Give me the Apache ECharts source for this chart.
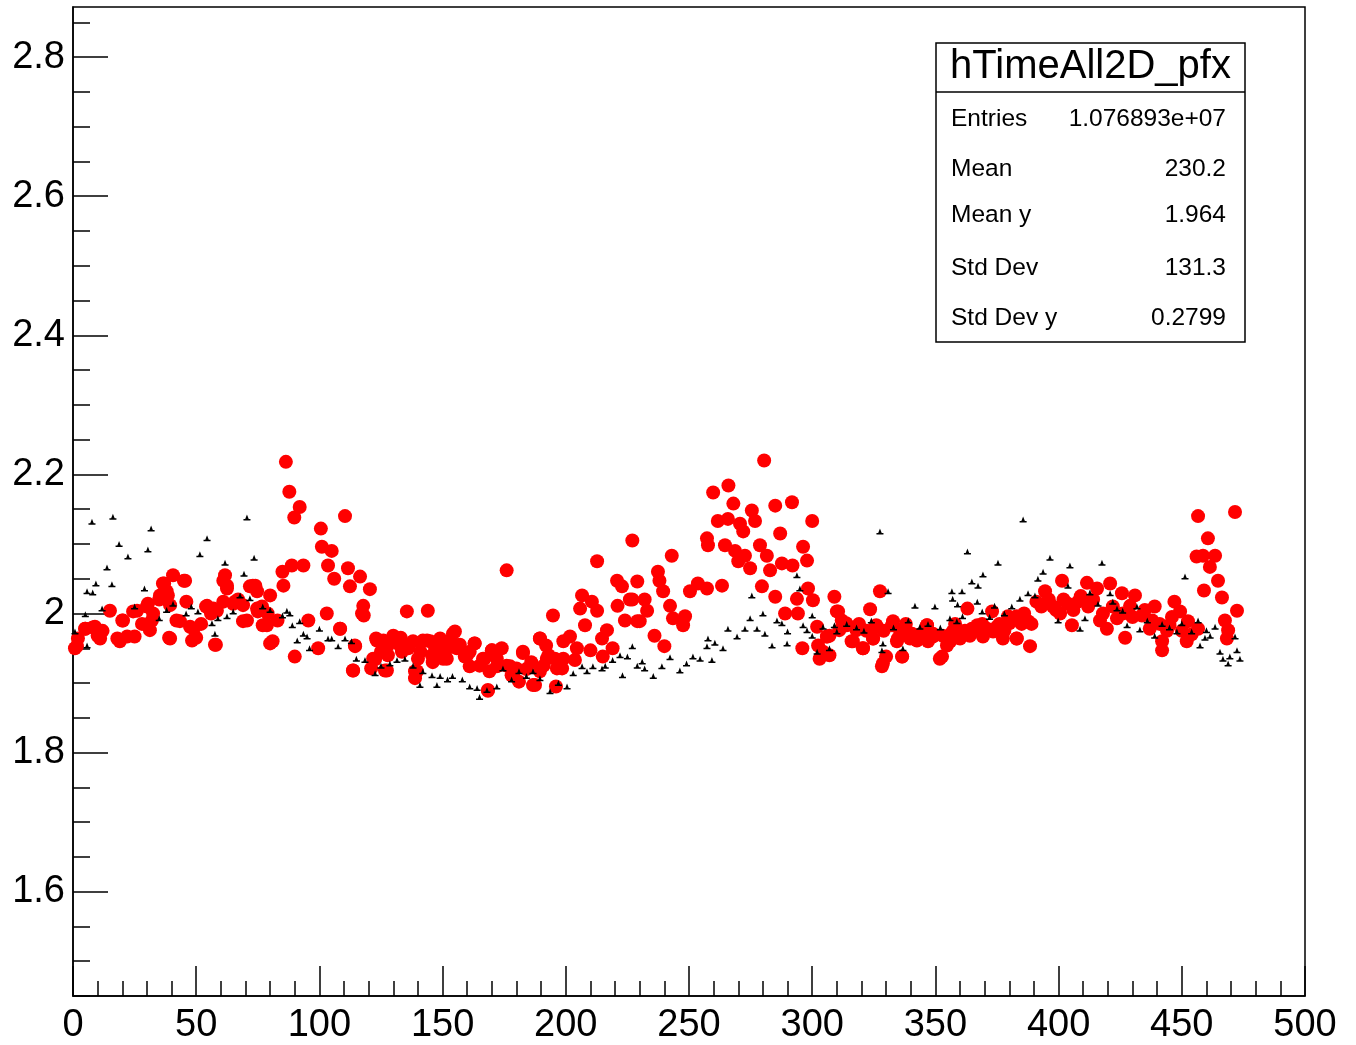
<!DOCTYPE html>
<html>
<head>
<meta charset="utf-8">
<script src="https://cdn.jsdelivr.net/npm/echarts@6/dist/echarts.min.js"></script>
<style>html,body{margin:0;padding:0;background:#fff}#c{width:1356px;height:1045px}</style>
</head>
<body>
<div id="c"></div>
<script>
// ---- data ----
const redProfile = [
[0.8,1.950],[2,1.964],[5,1.978],[8,1.980],[10,1.968],[12,1.975],[15,2.004],[18,1.964],[20,1.990],[22,1.967],
[26,2.004],[28,1.985],[30,2.010],[32,1.990],[35,2.020],[37,2.043],[38.5,2.026],[39,1.965],[40.6,2.055],[42,1.990],
[45,2.047],[46,2.017],[49,1.978],[50,1.965],[52,1.985],[54,2.010],[56,2.000],[57,2.007],[58,1.955],[61,2.047],
[62.5,2.040],[65,2.014],[67,2.020],[69,2.012],[70.6,1.990],[73,2.040],[74,2.040],[74.7,2.007],[75,2.003],[77,1.983],
[79,2.000],[80,2.026],[81,1.960],[83,1.990],[85,2.060],[85.4,2.040],[86.4,2.218],[87.8,2.175],[88.8,2.069],[89.8,2.138],
[90,1.938],[92,2.153],[93.5,2.069],[95.5,1.990],[99.5,1.950],[100.6,2.122],[101,2.096],[103,2.000],[103.5,2.069],[105,2.090],
[106,2.050],[108.4,1.978],[110.4,2.140],[111.6,2.065],[112.4,2.039],[113.7,1.918],[114.5,1.953],[116.5,2.053],[117.8,2.011],[118,1.997],
[120.5,2.035],[121,1.921],[122.6,1.934],[123,1.964],[125,1.945],[126,1.961],[127.4,1.918],[128,1.955],[130,1.968],[132.7,1.954],
[133,1.965],[135.5,2.003],[136,1.950],[138,1.960],[139.6,1.917],[141,1.945],[142,1.961],[144,2.004],[145,1.960],[146,1.930],
[147.7,1.945],[149,1.960],[150,1.950],[151.7,1.935],[151.8,1.950],[155,1.974],[157,1.955],[159,1.938],[161,1.945],[163,1.957],
[165,1.925],[167,1.935],[168.4,1.890],[169,1.917],[170,1.947],[172,1.935],[174,1.950],[176,2.062],[176,1.925],[178,1.911],
[180,1.921],[181,1.902],[182.6,1.945],[184,1.920],[186,1.930],[187.5,1.897],[189.5,1.964],[189.5,1.917],[191,1.925],[192,1.954],
[193,1.940],[194.8,1.997],[195.6,1.935],[196,1.895],[198.5,1.921],[199,1.935],[201.7,1.967],[203.7,1.933],[204.5,1.950],[205.8,2.007],
[206.6,2.026],[207.8,1.983],[210,1.947],[210.6,2.017],[212.7,2.075],[212.7,2.004],[214.7,1.964],[215,1.938],[216.7,1.976],[219,1.950],
[220.8,2.047],[221,2.011],[222.8,2.039],[224,1.990],[226,2.020],[227,2.105],[227,2.020],[229,2.046],[229,1.989],[230,1.989],
[232,2.020],[233,2.004],[236,1.968],[237.4,2.060],[238,2.047],[239.5,2.032],[240,1.953],[242.3,2.011],[243,2.083],[243.5,1.993],
[247.6,1.983],[248.4,1.996],[250.4,2.032],[253.6,2.043],[257.3,2.108],[257.3,2.036],[257.7,2.098],[259.8,2.174],[261.7,2.133],[263.4,2.040],
[264.6,2.098],[265.8,2.136],[266,2.184],[268,2.158],[268.7,2.090],[270,2.075],[270.7,2.129],[272,2.118],[272.7,2.083],[274.8,2.065],
[275.5,2.148],[276.8,2.133],[278.8,2.098],[279.6,2.039],[280.5,2.220],[281.6,2.083],[282.9,2.062],[285,2.155],[285,2.024],[287,2.115],
[287.7,2.072],[289,2.000],[291.8,2.160],[292,2.069],[293.8,2.021],[294.2,2.000],[296,1.950],[296.3,2.096],[297.9,2.076],[298.3,2.036],
[300,2.133],[300.3,2.019],[302,1.981],[302.4,1.954],[303,1.935],[304.4,1.945],[306,1.967],[307,1.968],[309,2.024],[310.5,2.003],
[311,1.976],[312,1.990],[314,1.983],[316,1.960],[318,1.976],[319,1.985],[320.6,1.950],[322,1.975],[323.5,2.006],[324.7,1.964],
[326,1.983],[327.5,2.032],[328.3,1.924],[329,1.975],[330,1.938],[332.8,1.989],[334.4,1.960],[335.6,1.976],[336.5,1.938],[338,1.985],
[339.7,1.964],[342.5,1.961],[344,1.970],[346.6,1.983],[347,1.960],[349,1.971],[351.8,1.935],[353,1.968],[354.7,1.954],[356,1.960],
[357,1.974],[358,1.985],[360,1.964],[362,1.975],[363,2.007],[364,1.968],[366,1.975],[367,1.983],[369,1.985],[371,1.978],
[373,2.003],[373.4,1.974],[376,1.985],[378,1.975],[380,1.986],[380,1.989],[383,1.964],[383,1.996],[385,1.985],[387.6,1.989],
[388.4,1.953],[391,2.017],[394.5,2.032],[397.7,2.010],[400.6,2.000],[401.4,2.047],[403.8,2.014],[405.4,1.983],[407.9,2.017],[411.5,2.044],
[412,2.010],[415.6,2.036],[416.8,1.990],[419.6,1.978],[420.9,2.043],[423.7,1.993],[425.7,2.029],[427,1.965],[429,2.011],[431,2.026],
[433.8,1.997],[437,1.978],[439,2.010],[442,1.960],[442,1.947],[445,1.983],[447,2.017],[449.3,2.003],[452,1.960],[452.5,1.989],
[456,2.082],[456.6,2.140],[456.6,1.978],[458.6,2.083],[459,2.033],[460.6,2.108],[461.4,2.067],[463.5,2.083],[464.7,2.047],[466.3,2.023],
[467.5,1.990],[468.3,1.964],[468.8,1.976],[471.6,2.146],[472.4,2.004],
[1.6,1.953],[4.9,1.978],[8.9,1.981],[11,1.964],[19,1.960],[20.3,1.990],[24.4,2.003],[25,1.967],[30.4,2.014],[31.2,1.976],
[32.5,2.000],[35.3,2.026],[36.5,2.043],[38,2.032],[39.4,2.012],[39.4,1.964],[43.4,1.989],[45.5,2.047],[47.5,1.981],[48.3,1.961],
[54.4,2.011],[58.4,2.004],[57.6,1.955],[61,2.017],[61.7,2.055],[62.5,2.036],[65.7,2.017],[69,1.989],[71.8,2.039],[74.7,2.032],
[76.7,2.010],[78.7,1.983],[80,1.957],
[108.4,1.978],[113.6,1.918],[114.4,1.954],[117.3,2.000],[121.8,1.935],[123.3,1.961],[126.6,1.918],[127.8,1.940],[131.5,1.964],[133.5,1.945],
[135.5,1.954],[138.8,1.917],[138.8,1.907],[140,1.935],[143.7,1.961],[145.7,1.940],[147,1.950],[149,1.964],[150.2,1.935],[153,1.961],
[154.2,1.971],[155.8,1.950],[159.9,1.940],[161,1.924],[163,1.957],[166.4,1.935],[168.4,1.889],[170,1.947],[172,1.924],[177.4,1.924],
[178.6,1.911],[182.6,1.943],[186.7,1.897],[189.5,1.964],[192.3,1.935],[196.4,1.921],[199,1.960],
[306,1.967],[307,1.940],[310,2.003],[313.8,1.986],[316.5,1.960],[318,1.978],[320.6,1.950],[324.7,1.964],[325.5,1.981],[328.7,1.928],
[332.4,1.983],[334.8,1.964],[336.5,1.938],[340.5,1.971],[346.6,1.983],[349,1.967],[352.7,1.938],[356,1.964],[360,1.971],[364.8,1.978],
[369.3,1.967],[375,1.981],[377.4,1.964],[379.5,1.996],[383,1.964],
[386,2.000],[389,1.985],[393,2.010],[396,2.020],[399,2.005],[402,2.020],[406,2.005],[409,2.025],[414,2.020],[418,2.000],
[422,2.010],[426,2.000],[430,1.995],[435,2.005],[438,1.990],[441,1.985],[444,1.975],[446,1.995],[450,1.975],[454,1.970]
];
const blackProfile = [
[0.8,1.974],[5,1.999],[5.7,1.954],[5.7,2.032],[7.7,2.132],[8,2.030],[9.3,2.043],[11.8,2.007],[13.8,2.066],[15.8,2.042],
[16.2,2.139],[18.7,2.100],[22.3,2.082],[25,2.010],[29,2.036],[30.4,2.092],[31.7,2.122],[35,1.993],[38,2.005],[40.6,2.014],
[45.9,2.000],[48,2.010],[50.7,2.003],[51.5,2.085],[54.4,2.108],[56.4,1.986],[57.6,1.971],[58.8,1.993],[61.7,2.073],[62.5,1.996],
[65,2.003],[67.8,2.026],[69.4,2.057],[70.6,2.138],[71.8,2.022],[73.5,2.080],[77,2.010],[80,2.005],[85,1.997],[86.8,2.004],
[88,2.000],[89,1.983],[91,1.961],[92,1.989],[93.5,1.971],[95,1.967],[96,1.950],[100,1.978],[103.5,1.964],[105,1.964],
[107.6,1.953],[110.4,1.964],[113,1.960],[115,1.935],[118.5,1.933],[122.6,1.914],[125,1.925],[128.6,1.928],[131.5,1.933],[134.7,1.935],
[138,1.925],[140.8,1.897],[142,1.917],[145.7,1.911],[147.7,1.897],[149,1.910],[152,1.905],[154,1.910],[158,1.905],[161,1.895],
[164,1.893],[165,1.880],[168,1.890],[172,1.895],[174.5,1.921],[178,1.905],[181,1.917],[184,1.910],[186.7,1.917],[189.5,1.907],
[193.6,1.888],[197,1.900],[200.5,1.895],[203,1.914],[206.6,1.924],[208.6,1.917],[211,1.924],[214.7,1.921],[216,1.925],[219,1.933],
[222,1.940],[223,1.911],[225,1.938],[227,1.953],[229,1.925],[231,1.931],[232,1.921],[235.5,1.910],[239,1.924],[242.3,1.937],
[246.3,1.918],[249,1.928],[251.6,1.938],[254.5,1.935],[257.3,1.953],[257.7,1.964],[259.3,1.933],[260.5,1.958],[263.8,1.950],[265.8,1.978],
[269.5,1.967],[272.7,1.978],[274.8,1.993],[275.5,2.026],[277.6,1.978],[280,2.000],[280.8,1.971],[283.7,1.954],[285.7,1.990],[287.7,1.986],
[289.8,1.957],[290,1.974],[293.8,2.055],[295,2.036],[296.3,1.983],[297.9,1.976],[300,1.968],[300,1.997],[302,1.945],[304.4,1.981],
[307,1.950],[309,1.983],[310,1.974],[314,1.985],[318,1.980],[321,1.975],[324,1.990],[327.5,2.118],[328.3,1.947],[328.7,1.957],
[330.8,2.032],[333,1.980],[336.8,1.950],[339,1.990],[341.7,2.011],[343.7,1.981],[347,1.985],[349.8,2.010],[352,1.980],[355.9,1.993],
[356.7,2.032],[357,2.021],[358.7,1.989],[359,2.013],[360.8,2.032],[361,1.996],[363,2.089],[364.8,2.046],[367,2.017],[367.3,2.040],
[369,2.003],[369.3,2.056],[372,1.995],[374,2.011],[375.4,2.073],[378,2.000],[381,2.010],[384.3,2.021],[385.6,2.135],[387.6,2.029],
[390.4,2.026],[391.6,2.050],[393.7,2.060],[396.5,2.080],[399.8,1.990],[403.8,2.040],[404.6,2.069],[408.7,1.978],[410.7,1.993],[412.7,2.030],
[416,2.014],[417.6,2.073],[420.9,2.029],[422,2.017],[423.7,2.007],[426,2.004],[427.8,1.983],[431.8,2.010],[433,1.977],[436,1.990],
[439,1.968],[442,1.985],[445,1.980],[448,1.974],[450,1.986],[451.3,2.053],[454,1.974],[456.6,1.990],[457.4,1.954],[459.4,1.965],
[460,1.976],[461.5,1.968],[463.5,1.981],[465.5,1.945],[466.7,1.935],[468.8,1.928],[469.5,1.938],[471.6,1.967],[472.4,1.947],[473.6,1.935]
];
const yTickValues = [1.6, 1.8, 2.0, 2.2, 2.4, 2.6, 2.8];
const yMinorValues = [1.45,1.5,1.55,1.65,1.7,1.75,1.85,1.9,1.95,2.05,2.1,2.15,2.25,2.3,2.35,2.45,2.5,2.55,2.65,2.7,2.75,2.85];
const statsTitle = 'hTimeAll2D_pfx';
const statsLabels = ['Entries', 'Mean', 'Mean y', 'Std Dev', 'Std Dev y'];
const statsValues = ['1.076893e+07', '230.2', '1.964', '131.3', '0.2799'];

// ---- chart ----
const FONT = 'Liberation Sans, Arial, Helvetica, sans-serif';
const chart = echarts.init(document.getElementById('c'), null, {renderer: 'canvas'});
const grid = {left: 73, top: 7, right: 51, bottom: 49, show: true, borderColor: '#000', borderWidth: 1.5, backgroundColor: 'transparent'};

const statsGraphics = [];
const boxL = 936, boxT = 43, boxR = 1245, boxB = 342;
statsGraphics.push({type: 'rect', shape: {x: boxL, y: boxT, width: boxR - boxL, height: boxB - boxT},
  style: {fill: '#fff', stroke: '#000', lineWidth: 1.5}, z: 100});
statsGraphics.push({type: 'line', shape: {x1: boxL, y1: 92, x2: boxR, y2: 92}, style: {stroke: '#000', lineWidth: 1.5}, z: 101});
statsGraphics.push({type: 'text', x: (boxL + boxR) / 2, y: 67, z: 102,
  style: {text: statsTitle, font: '40px ' + FONT, fill: '#000', textAlign: 'center', textVerticalAlign: 'middle'}});
const rowY = [119, 169, 215, 268, 318];
statsLabels.forEach((lab, i) => {
  statsGraphics.push({type: 'text', x: 951, y: rowY[i], z: 102,
    style: {text: lab, font: '24.5px ' + FONT, fill: '#000', textAlign: 'left', textVerticalAlign: 'middle'}});
  statsGraphics.push({type: 'text', x: 1226, y: rowY[i], z: 102,
    style: {text: statsValues[i], font: '24.5px ' + FONT, fill: '#000', textAlign: 'right', textVerticalAlign: 'middle'}});
});

const option = {
  animation: false,
  backgroundColor: '#fff',
  grid: grid,
  xAxis: {
    type: 'value', min: 0, max: 500, interval: 50,
    axisLine: {show: true, lineStyle: {color: '#000', width: 1.5}},
    axisTick: {show: true, inside: true, length: 30, lineStyle: {color: '#000', width: 1.5}},
    minorTick: {show: true, splitNumber: 5, length: 15, lineStyle: {color: '#000', width: 1.5}},
    splitLine: {show: false}, minorSplitLine: {show: false},
    axisLabel: {color: '#000', fontSize: 38, fontFamily: FONT, margin: 11}
  },
  yAxis: [{
    type: 'value', min: 1.45, max: 2.872,
    axisLine: {show: true, lineStyle: {color: '#000', width: 1.5}},
    axisTick: {show: true, inside: true, length: 35, customValues: yTickValues, lineStyle: {color: '#000', width: 1.5}},
    splitLine: {show: false},
    axisLabel: {color: '#000', fontSize: 38, fontFamily: FONT, margin: 8, customValues: yTickValues,
      formatter: v => (Math.abs(v - 2) < 1e-9 ? '2' : v.toFixed(1))}
  }, {
    type: 'value', min: 1.45, max: 2.872, position: 'left',
    axisLine: {show: false},
    axisTick: {show: true, inside: true, length: 17, customValues: yMinorValues, lineStyle: {color: '#000', width: 1.5}},
    axisLabel: {show: false, customValues: []},
    splitLine: {show: false}
  }],
  series: [{
    type: 'scatter', name: 'red', data: redProfile, yAxisIndex: 0,
    symbol: 'circle', symbolSize: 14, itemStyle: {color: '#ff0000', opacity: 1}, z: 2
  }, {
    type: 'scatter', name: 'black', data: blackProfile, yAxisIndex: 0,
    symbol: 'path://M0,8L10,8L10,10L0,10ZM2.5,8L5,2L7.5,8Z', symbolSize: [7, 6],
    itemStyle: {color: '#000', opacity: 1}, z: 3
  }],
  graphic: statsGraphics
};
chart.setOption(option);
</script>
</body>
</html>
